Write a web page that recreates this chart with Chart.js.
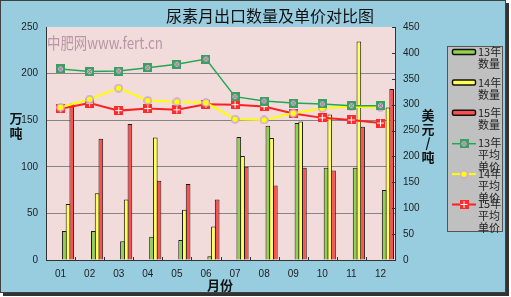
<!DOCTYPE html>
<html>
<head>
<meta charset="utf-8">
<script src="https://cdn.jsdelivr.net/npm/chart.js@4/dist/chart.umd.min.js"></script>
<style>
    html, body { margin: 0; padding: 0; background: #fff; }
    #wrap { width: 511px; height: 297px; }
</style>
</head>
<body>
<div id="wrap"><canvas id="chart" width="511" height="297"></canvas></div>
<script>
// data
const months = ["01", "02", "03", "04", "05", "06", "07", "08", "09", "10", "11", "12"];
const qty13 = [31, 31, 20, 25, 21.5, 4, 132, 144, 147, 99, 99, 75];
const qty14 = [60, 71.5, 65, 131.5, 54, 36, 111.5, 131, 148.5, 156, 234.5, 163.5];
const qty15 = [168, 130, 146, 85, 81.5, 65, 100, 80, 99, 96, 143, 183.5];
const price13 = [369, 364, 365, 371.5, 378, 388, 315.5, 307, 303, 301.5, 298, 298];
const price14 = [295, 310.5, 332, 308, 305.5, 304, 272, 270.5, 283.5, 293, 296, 294.5];
const price15 = [292, 303, 288.5, 292.5, 290, 301, 300, 296.3, 283, 274.5, 270.5, 264.5];
const qtyTicks = [0, 50, 100, 150, 200, 250];
const priceTicks = [0, 50, 100, 150, 200, 250, 300, 350, 400, 450];

function makeMarker(kind) {
    const c = document.createElement("canvas");
    c.width = 9; c.height = 9;
    const g = c.getContext("2d");
    if (kind === "green") {
        g.fillStyle = "#3aa060";
        g.fillRect(0, 0, 9, 9);
        g.fillStyle = "#e8a0d8";
        g.fillRect(2, 2, 5, 5);
        g.strokeStyle = "#3aa060";
        g.lineWidth = 1;
        g.beginPath();
        g.moveTo(2, 2); g.lineTo(7, 7);
        g.moveTo(7, 2); g.lineTo(2, 7);
        g.stroke();
    } else if (kind === "red") {
        g.fillStyle = "#ff2a2a";
        g.fillRect(0, 0, 9, 9);
        g.fillStyle = "#ffffff";
        g.fillRect(4, 1, 1, 7);
        g.fillRect(1, 4, 7, 1);
    } else {
        g.fillStyle = "#ffff00";
        g.strokeStyle = "#c8a0e8";
        g.lineWidth = 1.5;
        g.beginPath();
        g.arc(4.5, 4.5, 3.6, 0, Math.PI * 2);
        g.fill();
        g.stroke();
    }
    return c;
}

const markGreen = makeMarker("green");
const markYellow = makeMarker("yellow");
const markRed = makeMarker("red");

// empty slots so the real bars sit right of the category centre, as in the original
const spacer = () => ({
    type: "bar", data: [], order: 1, spacer: true, yAxisID: "y",
    categoryPercentage: 0.9, barPercentage: 1.25
});

function barSet(label, data, color) {
    return {
        type: "bar", label: label, data: data, yAxisID: "y", order: 1,
        backgroundColor: color, borderColor: "#1a1a1a", borderWidth: 1,
        categoryPercentage: 0.9, barPercentage: 1.25
    };
}

function lineSet(label, data, color, marker, width) {
    return {
        type: "line", label: label, data: data, yAxisID: "y2", order: 0,
        borderColor: color, borderWidth: width, backgroundColor: color,
        pointStyle: marker, pointRadius: 4, tension: 0, marker: marker
    };
}

const datasets = [
    spacer(), spacer(), spacer(), spacer(),
    barSet("13年数量", qty13, "#92d050"),
    barSet("14年数量", qty14, "#ffff55"),
    barSet("15年数量", qty15, "#ff5050"),
    lineSet("13年平均单价", price13, "#22a855", markGreen, 1.5),
    lineSet("14年平均单价", price14, "#ffff00", markYellow, 2),
    lineSet("15年平均单价", price15, "#ff2020", markRed, 2)
];

const frame = {
    id: "frame",
    beforeDraw(chart) {
        const ctx = chart.ctx;
        const a = chart.chartArea;
        ctx.save();
        ctx.fillStyle = "#ffffff";
        ctx.fillRect(0, 0, 511, 297);
        ctx.fillStyle = "#98cddf";
        ctx.fillRect(0, 0, 506, 293);
        ctx.fillStyle = "#333";
        ctx.fillRect(506, 3, 3, 293);
        ctx.fillRect(3, 293, 506, 3);
        ctx.strokeStyle = "#404040";
        ctx.lineWidth = 1;
        ctx.strokeRect(0.5, 0.5, 505, 292);
        ctx.fillStyle = "#f2dcdb";
        ctx.fillRect(a.left, a.top, a.right - a.left, a.bottom - a.top);
        ctx.restore();
    },
    afterDatasetsDraw(chart) {
        const ctx = chart.ctx;
        const a = chart.chartArea;
        const y2 = chart.scales.y2;
        const x = chart.scales.x;
        ctx.save();
        ctx.strokeStyle = "#333";
        ctx.lineWidth = 1;
        ctx.beginPath();
        priceTicks.forEach(v => {
            const py = Math.round(y2.getPixelForValue(v)) + 0.5;
            ctx.moveTo(a.right - 3, py); ctx.lineTo(a.right, py);
        });
        for (let i = 1; i < months.length; i++) {
            const px = Math.round((x.getPixelForValue(i - 1) + x.getPixelForValue(i)) / 2) + 0.5;
            ctx.moveTo(px, a.bottom - 3); ctx.lineTo(px, a.bottom);
        }
        ctx.stroke();
        ctx.restore();
    },
    afterDraw(chart) {
        const ctx = chart.ctx;
        ctx.save();
        // title
        ctx.fillStyle = "#111";
        ctx.font = "16px 'Noto Sans CJK SC'";
        ctx.textAlign = "center";
        ctx.textBaseline = "middle";
        ctx.fillText("尿素月出口数量及单价对比图", 270, 16);

        // watermark
        ctx.textAlign = "left";
        ctx.font = "16px 'Noto Sans CJK SC'";
        ctx.fillStyle = "rgba(165,125,150,0.75)";
        ctx.fillText("中肥网www.fert.cn", 47, 43, 116);

        // axis titles
        ctx.fillStyle = "#111";
        ctx.font = "bold 13px 'Noto Sans CJK SC'";
        ctx.textAlign = "center";
        ctx.fillText("万", 16, 118);
        ctx.fillText("吨", 16, 133);
        ctx.fillText("美", 428, 115);
        ctx.fillText("元", 428, 129);
        ctx.fillText("/", 428, 143);
        ctx.fillText("吨", 428, 157);
        ctx.fillText("月份", 220, 285);

        // legend
        ctx.fillStyle = "#c0c0c0";
        ctx.fillRect(447, 46, 55, 185);
        ctx.strokeStyle = "#555";
        ctx.lineWidth = 1;
        ctx.strokeRect(447.5, 46.5, 55, 185);
        const items = chart.data.datasets.filter(d => !d.spacer);
        items.forEach((d, i) => {
            const yc = 52 + i * 30.4;
            if (d.type === "bar") {
                ctx.fillStyle = d.backgroundColor;
                ctx.strokeStyle = "#111";
                ctx.lineWidth = 1.5;
                ctx.beginPath();
                ctx.roundRect(452.5, yc - 2.5, 23, 5, 1.5);
                ctx.fill();
                ctx.stroke();
            } else {
                ctx.strokeStyle = d.borderColor;
                ctx.lineWidth = d.borderWidth;
                ctx.beginPath();
                ctx.moveTo(452, yc + 0.5); ctx.lineTo(476, yc + 0.5);
                ctx.stroke();
                ctx.drawImage(d.marker, 459.5, yc - 4);
            }
            ctx.fillStyle = "#222";
            ctx.font = "11px 'Noto Sans CJK SC'";
            ctx.textAlign = "left";
            const head = d.label.slice(0, 3);
            const rest = d.label.slice(3);
            ctx.fillText(head, 478, yc);
            for (let k = 0; k < rest.length; k += 2) {
                ctx.fillText(rest.slice(k, k + 2), 478, yc + 12 * (k / 2 + 1));
            }
        });
        ctx.restore();
    }
};

new Chart(document.getElementById("chart"), {
    type: "bar",
    data: { labels: months, datasets: datasets },
    options: {
        responsive: false,
        animation: false,
        devicePixelRatio: 1,
        layout: { padding: { top: 27, left: 0, right: 0, bottom: 0 } },
        plugins: { legend: { display: false }, tooltip: { enabled: false } },
        scales: {
            x: {
                grid: { display: false, drawTicks: false },
                border: { color: "#333" },
                ticks: { padding: 8, color: "#222", font: { family: "Liberation Sans", size: 10 } },
                afterFit(s) { s.height = 37; }
            },
            y: {
                position: "left", min: 0, max: 250,
                afterBuildTicks(s) { s.ticks = qtyTicks.map(v => ({ value: v })); },
                grid: {
                    drawTicks: false,
                    color: c => (c.tick && (c.tick.value === 0 || c.tick.value === 250)) ? "rgba(0,0,0,0)" : "#858585"
                },
                border: { color: "#333" },
                ticks: { padding: 8, color: "#222", font: { family: "Liberation Sans", size: 10 } },
                afterFit(s) { s.width = 46; }
            },
            y2: {
                position: "right", min: 0, max: 450,
                afterBuildTicks(s) { s.ticks = priceTicks.map(v => ({ value: v })); },
                grid: { drawOnChartArea: false, drawTicks: false },
                border: { color: "#333" },
                ticks: { padding: 8, color: "#222", font: { family: "Liberation Sans", size: 10 } },
                afterFit(s) { s.width = 116; }
            }
        }
    },
    plugins: [frame]
});
</script>
</body>
</html>
